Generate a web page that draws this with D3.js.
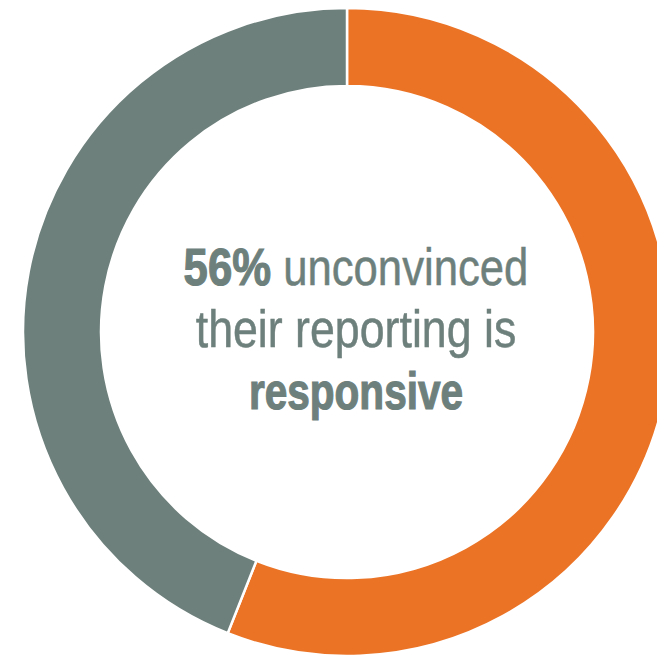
<!DOCTYPE html>
<html>
<head>
<meta charset="utf-8">
<script src="https://cdn.jsdelivr.net/npm/d3@7"></script>
<style>
  html, body { margin: 0; padding: 0; background: #fff; overflow: hidden; }
</style>
</head>
<body>
<div id="chart"></div>
<script>
// Chart data
var labels = ['Unconvinced', 'Convinced'];
var values = [56, 44];
var colors = ['#EB7326', '#6E807C'];

// Center text lines: [text, bold]
var textLines = [
    [['56%', true], [' unconvinced', false]],
    [['their reporting is', false]],
    [['responsive', true]]
];
// horizontal squeeze per line to fake the condensed face
var squeeze = [0.84, 0.86, 0.78];

var width = 657,
    height = 656;

var cx = 347, cy = 332;
var outerR = 324, innerR = 246;

var svg = d3.select('#chart').append('svg')
    .attr('width', width)
    .attr('height', height);

var g = svg.append('g')
    .attr('transform', 'translate(' + cx + ',' + cy + ')');

var pie = d3.pie().sort(null).value(function (d) { return d; });
var arc = d3.arc().innerRadius(innerR).outerRadius(outerR);

g.selectAll('path')
    .data(pie(values))
    .enter().append('path')
    .attr('d', arc)
    .attr('fill', function (d, i) { return colors[i]; })
    .attr('stroke', '#fff')
    .attr('stroke-width', 2.5);

// Center label, one text element per line
textLines.forEach(function (line, i) {
    var t = g.append('text')
        .attr('text-anchor', 'middle')
        .attr('transform', 'translate(9,' + (-47 + i * 62) + ') scale(' + squeeze[i] + ',1)')
        .style('font-family', '"Liberation Sans", Arial, sans-serif')
        .style('font-size', '52px')
        .attr('fill', '#6E807C');
    line.forEach(function (part) {
        t.append('tspan')
            .style('font-weight', part[1] ? 'bold' : 'normal')
            // thicken strokes a little, the original face is heavier
            .attr('stroke', '#6E807C')
            .attr('stroke-width', part[1] ? 1.2 : 0.5)
            .text(part[0]);
    });
});
</script>
</body>
</html>
